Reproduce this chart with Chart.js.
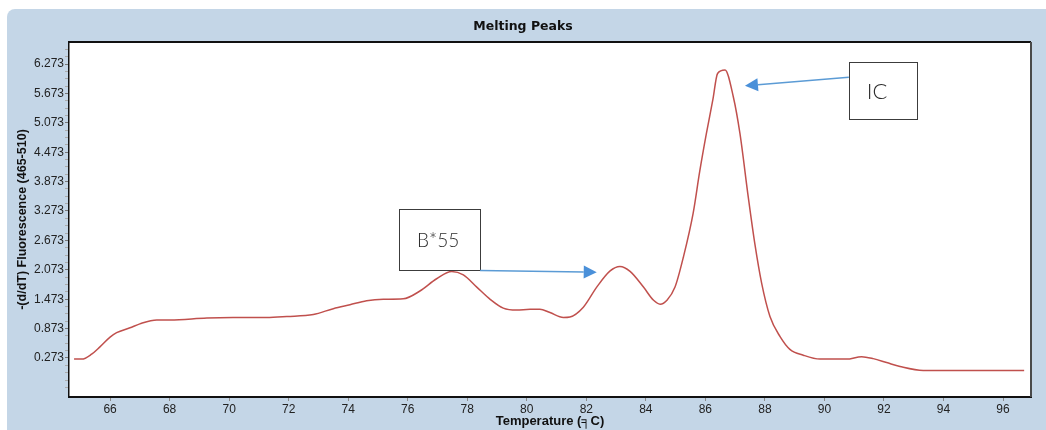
<!DOCTYPE html>
<html>
<head>
<meta charset="utf-8">
<title>Melting Peaks</title>
<script src="https://cdn.jsdelivr.net/npm/chart.js@4.4.1/dist/chart.umd.min.js"></script>
<style>
  html, body { margin: 0; padding: 0; background: #fff; }
  canvas { display: block; }
</style>
</head>
<body>
<canvas id="meltChart" width="1046" height="430"></canvas>
<script>
"use strict";

// temperature (°C) and -(d/dT) fluorescence
const temperature = [
  64.79, 65.05, 65.38, 65.66, 66.0, 66.22, 66.67, 67.0, 67.57, 68.02,
  69.25, 70.13, 71.26, 71.94, 72.83, 73.5, 74.06, 74.62, 75.18, 75.85,
  76.41, 76.97, 77.48, 77.87, 78.32, 78.77, 79.21, 79.66, 80.11, 80.44,
  80.78, 81.23, 81.45, 81.9, 82.35, 82.8, 83.13, 83.47, 83.92, 84.26,
  84.48, 84.71, 84.98, 85.26, 85.59, 85.81, 86.03, 86.25, 86.41, 86.66,
  86.94, 87.16, 87.44, 87.66, 87.89, 88.17, 88.51, 88.84, 89.29, 89.85,
  90.74, 91.25, 91.64, 92.09, 92.54, 93.32, 96.71
];
const fluorescence = [
  0.25, 0.25, 0.35, 0.50, 0.70, 0.79, 0.89, 0.97, 1.05, 1.05,
  1.09, 1.10, 1.10, 1.12, 1.16, 1.28, 1.36, 1.44, 1.47, 1.48,
  1.64, 1.89, 2.04, 1.97, 1.72, 1.47, 1.29, 1.25, 1.27, 1.27,
  1.20, 1.10, 1.11, 1.31, 1.72, 2.05, 2.14, 2.04, 1.72, 1.45,
  1.37, 1.45, 1.72, 2.33, 3.23, 4.08, 4.84, 5.54, 6.08, 6.15,
  5.60, 4.86, 3.56, 2.61, 1.80, 1.12, 0.71, 0.45, 0.33, 0.25,
  0.25, 0.30, 0.26, 0.18, 0.10, 0.02, 0.02
];

const xTicks = [66, 68, 70, 72, 74, 76, 78, 80, 82, 84, 86, 88, 90, 92, 94, 96];
const yTicks = [0.273, 0.873, 1.473, 2.073, 2.673, 3.273, 3.873, 4.473, 5.073, 5.673, 6.273];

// callout boxes: [left, top, right, bottom] in data units, arrow from -> to
const notes = [
  { label: 'B*55', box: [75.71, 3.314, 78.43, 2.069], from: [78.43, 2.06], to: [82.35, 2.022], size: 19 },
  { label: 'IC', box: [90.82, 6.314, 93.11, 5.150], from: [90.82, 6.002], to: [87.33, 5.830], size: 22 }
];

const yMin = -0.523, yMax = 6.722;
const points = temperature.map(function (t, i) { return { x: t, y: fluorescence[i] }; });

// minor y ticks every quarter of a major step
var yAll = [];
var yStep = yTicks[1] - yTicks[0];
for (var k = -4; k <= yTicks.length * 4; k++) {
  var v = +(yTicks[0] + k * yStep / 4).toFixed(4);
  if (v < yMin || v > yMax) continue;
  yAll.push({ value: v, major: yTicks.indexOf(v) !== -1 });
}

const framePlugin = {
  id: 'frame',
  beforeDraw: function (chart) {
    var ctx = chart.ctx, a = chart.chartArea;
    ctx.save();
    ctx.fillStyle = '#ffffff';
    ctx.fillRect(0, 0, chart.width, chart.height);
    ctx.fillStyle = '#c4d6e7';
    ctx.beginPath();
    ctx.roundRect(7, 9, chart.width + 20, chart.height + 20, 8);
    ctx.fill();
    ctx.fillStyle = '#ffffff';
    ctx.fillRect(a.left, a.top, a.right - a.left, a.bottom - a.top);
    ctx.restore();
  },
  afterDraw: function (chart) {
    var ctx = chart.ctx, a = chart.chartArea;
    ctx.save();
    ctx.lineWidth = 2;
    ctx.strokeStyle = '#111';
    ctx.beginPath();
    ctx.moveTo(a.left, a.top);
    ctx.lineTo(a.right, a.top);
    ctx.stroke();
    ctx.strokeStyle = '#4a4a4a';
    ctx.beginPath();
    ctx.moveTo(a.right, a.top);
    ctx.lineTo(a.right, a.bottom);
    ctx.stroke();
    ctx.restore();
  }
};

const calloutPlugin = {
  id: 'callouts',
  afterDatasetsDraw: function (chart) {
    var ctx = chart.ctx, sx = chart.scales.x, sy = chart.scales.y;
    ctx.save();
    notes.forEach(function (n) {
      var x1 = sx.getPixelForValue(n.box[0]), y1 = sy.getPixelForValue(n.box[1]);
      var x2 = sx.getPixelForValue(n.box[2]), y2 = sy.getPixelForValue(n.box[3]);
      ctx.fillStyle = '#fff';
      ctx.fillRect(x1, y1, x2 - x1, y2 - y1);
      ctx.lineWidth = 1;
      ctx.strokeStyle = '#3c3c3c';
      ctx.strokeRect(Math.round(x1) + 0.5, Math.round(y1) + 0.5, Math.round(x2 - x1), Math.round(y2 - y1));
      ctx.fillStyle = '#2b2b2b';
      ctx.font = '300 ' + n.size + 'px Lato, "Noto Sans", sans-serif';
      ctx.textBaseline = 'middle';
      ctx.textAlign = 'left';
      ctx.fillText(n.label, x1 + 18, (y1 + y2) / 2 + 1);

      var fx = sx.getPixelForValue(n.from[0]), fy = sy.getPixelForValue(n.from[1]);
      var tx = sx.getPixelForValue(n.to[0]), ty = sy.getPixelForValue(n.to[1]);
      var ang = Math.atan2(ty - fy, tx - fx);
      var hl = 13, hw = 6.5;
      var bx = tx - hl * Math.cos(ang), by = ty - hl * Math.sin(ang);
      ctx.strokeStyle = '#5b9bd5';
      ctx.lineWidth = 1.5;
      ctx.beginPath();
      ctx.moveTo(fx, fy);
      ctx.lineTo(bx, by);
      ctx.stroke();
      ctx.fillStyle = '#4a90d9';
      ctx.beginPath();
      ctx.moveTo(tx, ty);
      ctx.lineTo(bx + hw * Math.sin(ang), by - hw * Math.cos(ang));
      ctx.lineTo(bx - hw * Math.sin(ang), by + hw * Math.cos(ang));
      ctx.closePath();
      ctx.fill();
    });
    ctx.restore();
  }
};

var ctx = document.getElementById('meltChart');
var meltChart = new Chart(ctx, {
  type: 'line',
  data: {
    datasets: [{
      label: 'Melting Peaks',
      data: points,
      borderColor: '#c0504d',
      borderWidth: 1.5,
      pointRadius: 0,
      fill: false,
      cubicInterpolationMode: 'monotone'
    }]
  },
  options: {
    responsive: false,
    animation: false,
    devicePixelRatio: 1,
    layout: { padding: { left: 15, right: 15, top: 0, bottom: 0 } },
    plugins: {
      legend: { display: false },
      tooltip: { enabled: false },
      title: {
        display: true,
        text: 'Melting Peaks',
        color: '#111',
        font: { family: '"DejaVu Sans", Verdana, sans-serif', size: 12.5, weight: 'bold' },
        padding: { top: 19, bottom: 8 }
      }
    },
    scales: {
      x: {
        type: 'linear',
        min: 64.62,
        max: 96.94,
        afterFit: function (s) { s.height = 33; },
        afterBuildTicks: function (s) {
          s.ticks = xTicks.map(function (t) { return { value: t }; });
        },
        grid: { drawOnChartArea: false, drawTicks: true, tickLength: 4, tickColor: '#8a8a8a' },
        border: { color: '#111', width: 2 },
        ticks: {
          color: '#222',
          padding: 1,
          maxRotation: 0,
          font: { family: '"Liberation Sans", Arial, sans-serif', size: 12 }
        },
        title: {
          display: true,
          text: 'Temperature (╕C)',
          color: '#111',
          font: { family: '"Liberation Sans", Arial, sans-serif', size: 13, weight: 'bold' },
          padding: { top: 0, bottom: 1 }
        }
      },
      y: {
        type: 'linear',
        min: yMin,
        max: yMax,
        afterFit: function (s) { s.width = 54; },
        afterBuildTicks: function (s) {
          s.ticks = yAll.map(function (t) { return { value: t.value, major: t.major }; });
        },
        grid: {
          drawOnChartArea: false,
          drawTicks: true,
          tickLength: 4,
          tickColor: function (c) { return c.tick && c.tick.major ? '#777' : '#aaa'; }
        },
        border: { color: '#111', width: 1.5 },
        ticks: {
          color: '#222',
          padding: 1,
          autoSkip: false,
          font: { family: '"Liberation Sans", Arial, sans-serif', size: 12 },
          callback: function (value, index) {
            return yAll[index] && yAll[index].major ? yAll[index].value.toFixed(3) : '';
          }
        },
        title: {
          display: true,
          text: '-(d/dT) Fluorescence (465-510)',
          color: '#111',
          font: { family: '"Liberation Sans", Arial, sans-serif', size: 12.5, weight: 'bold' },
          padding: { top: 0, bottom: 0 }
        }
      }
    }
  },
  plugins: [framePlugin, calloutPlugin]
});
</script>
</body>
</html>
